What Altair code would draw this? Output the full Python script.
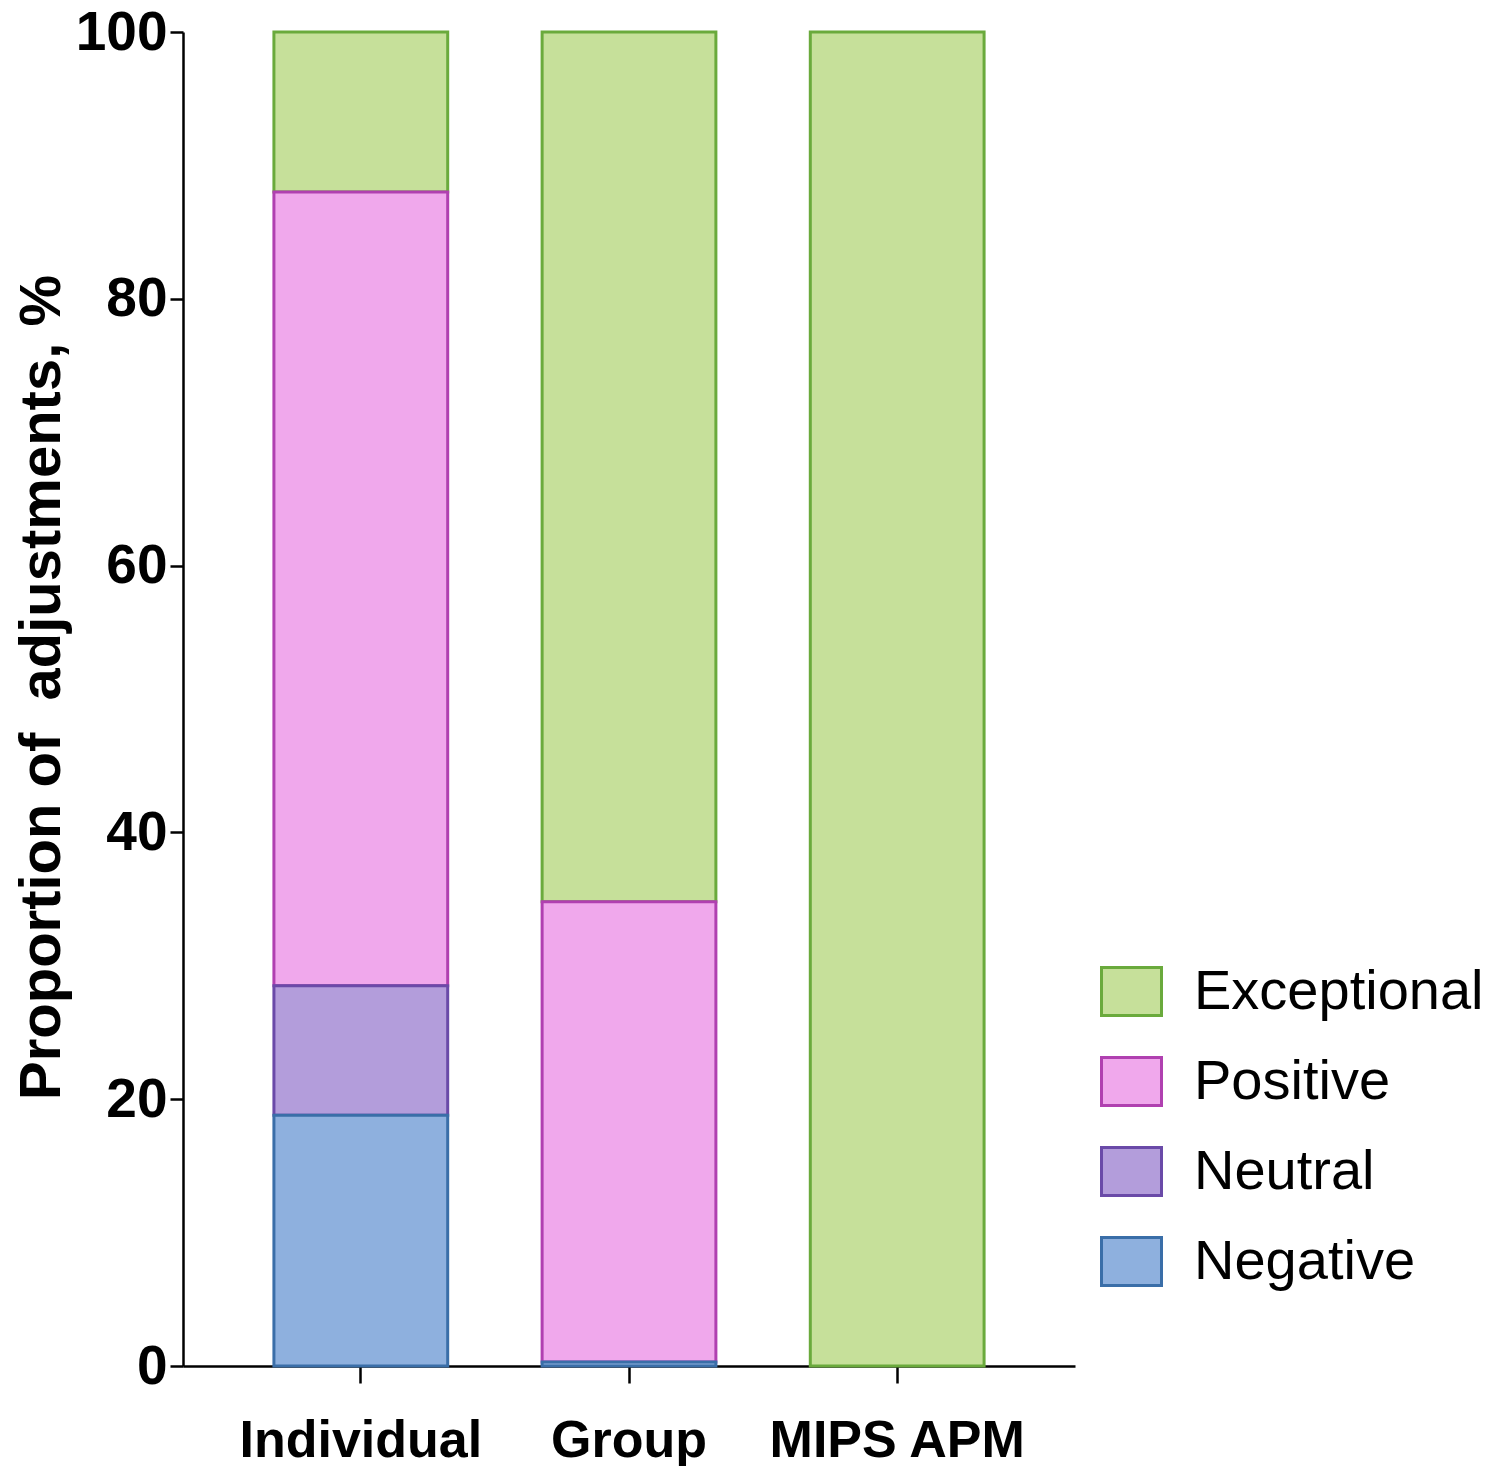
import altair as alt
import pandas as pd

groups = ["Individual", "Group", "MIPS APM"]
categories = ["Exceptional", "Positive", "Neutral", "Negative"]
individual = [12.0, 59.5, 9.7, 18.8]
group = [65.2, 34.5, 0.0, 0.3]
mips_apm = [100.0, 0.0, 0.0, 0.0]
stack_rank = [3, 2, 1, 0]
fill_colors = ["#c6e09a", "#f0a8ec", "#b39ddb", "#8eb0de"]
stroke_colors = ["#6aaa3c", "#b040b0", "#6a4aa8", "#3a6ea8"]
y_ticks = [0, 20, 40, 60, 80, 100]
y_title = "Proportion of\u00a0 adjustments, %"

rows = []
for g, vals in zip(groups, [individual, group, mips_apm]):
    for c, v, r in zip(categories, vals, stack_rank):
        if v > 0:
            rows.append({"group": g, "category": c, "value": v, "rank": r})
df = pd.DataFrame(rows)

FONT = "Liberation Sans"

legend = alt.Legend(
    title=None,
    orient="none",
    legendX=917,
    legendY=928,
    symbolType="M-1,-0.8H1V0.8H-1Z",
    symbolSize=3600,
    symbolStrokeWidth=3,
    labelFont=FONT,
    labelFontSize=56,
    labelColor="black",
    labelOffset=31,
    labelLimit=0,
    rowPadding=28,
    padding=0,
)

chart = alt.Chart(df).mark_bar(strokeWidth=3).encode(
    x=alt.X(
        "group:N",
        sort=groups,
        scale=alt.Scale(paddingInner=0.352, paddingOuter=0.339),
        axis=alt.Axis(
            title=None,
            labelAngle=0,
            labelFont=FONT,
            labelFontWeight="bold",
            labelFontSize=52,
            labelColor="black",
            labelPadding=32,
            labelLimit=0,
            tickSize=17,
            tickWidth=2.5,
            tickColor="black",
            domainColor="black",
            domainWidth=2.5,
            grid=False,
        ),
    ),
    y=alt.Y(
        "value:Q",
        stack="zero",
        scale=alt.Scale(domain=[0, 100], nice=False),
        axis=alt.Axis(
            values=y_ticks,
            title=y_title,
            titleFont=FONT,
            titleFontWeight="bold",
            titleFontSize=58,
            titleColor="black",
            titleAngle=270,
            titleAlign="center",
            titleBaseline="alphabetic",
            titleX=-124,
            titleY=655,
            labelFont=FONT,
            labelFontWeight="bold",
            labelFontSize=55,
            labelColor="black",
            labelPadding=3,
            labelFlush=False,
            labelOverlap=False,
            tickSize=13,
            tickWidth=2.5,
            tickColor="black",
            domainColor="black",
            domainWidth=2.5,
            grid=False,
        ),
    ),
    fill=alt.Fill("category:N", scale=alt.Scale(domain=categories, range=fill_colors), legend=legend),
    stroke=alt.Stroke("category:N", scale=alt.Scale(domain=categories, range=stroke_colors), legend=legend),
    order=alt.Order("rank:Q"),
).properties(
    width=892,
    height=1334,
    autosize=alt.AutoSizeParams(type="none"),
    padding={"left": 175, "top": 24, "right": 417, "bottom": 100},
).configure(
    background="white",
    view=alt.ViewConfig(strokeWidth=0),
)

chart.save("out.html", embed_options={"renderer": "svg", "actions": False})
